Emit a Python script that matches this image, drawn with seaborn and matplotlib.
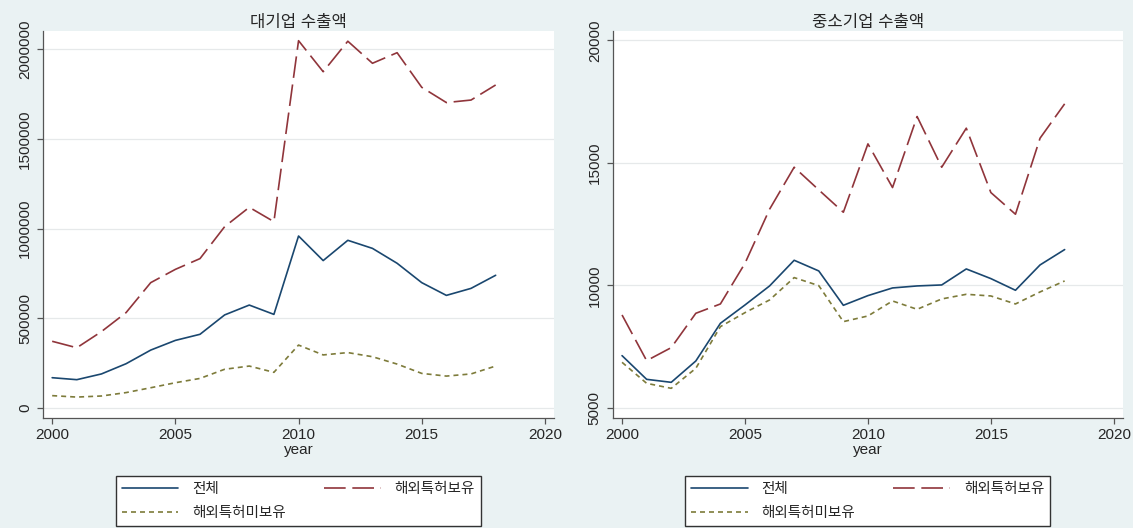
import pandas as pd
import matplotlib.pyplot as plt
from matplotlib.lines import Line2D
import seaborn as sns

years = list(range(2000, 2019))
series_names = ['전체', '해외특허보유', '해외특허미보유']

# 대기업 수출액
large_total = [169000, 158000, 190000, 247000, 323000, 377000, 411000, 519000, 574000, 522000,
               959000, 822000, 935000, 890000, 807000, 699000, 628000, 667000, 740000]
large_patent = [372000, 336000, 426000, 532000, 699000, 773000, 833000, 1011000, 1119000, 1039000,
                2048000, 1875000, 2045000, 1922000, 1981000, 1788000, 1703000, 1717000, 1801000]
large_nopatent = [69000, 61000, 67000, 86000, 113000, 141000, 165000, 216000, 234000, 199000,
                  351000, 296000, 309000, 286000, 245000, 193000, 178000, 190000, 234000]

# 중소기업 수출액
small_total = [7136, 6170, 6048, 6918, 8456, 9204, 9980, 11027, 10592, 9190,
               9585, 9898, 9980, 10020, 10673, 10279, 9803, 10837, 11463]
small_patent = [8796, 6932, 7463, 8864, 9245, 10905, 13109, 14823, 13898, 12986,
                15775, 13993, 16891, 14823, 16415, 13789, 12905, 16007, 17408]
small_nopatent = [6864, 6007, 5803, 6619, 8320, 8891, 9408, 10320, 9993, 8524,
                  8755, 9367, 9027, 9449, 9639, 9571, 9245, 9735, 10184]

titles = ['대기업 수출액', '중소기업 수출액']
x_ticks = [2000, 2005, 2010, 2015, 2020]
y_ticks_large = [0, 500000, 1000000, 1500000, 2000000]
y_ticks_small = [5000, 10000, 15000, 20000]

palette = {'전체': '#1a476f', '해외특허보유': '#90353b', '해외특허미보유': '#7d7b3a'}
dash_map = {'전체': '', '해외특허보유': (13, 4), '해외특허미보유': (3, 2.4)}

bg = '#eaf2f3'
sns.set_style('white')
plt.rcParams['font.family'] = ['Liberation Sans', 'Noto Sans CJK KR', 'DejaVu Sans']
plt.rcParams['axes.unicode_minus'] = False


def make_df(total, patent, nopatent):
    df = pd.DataFrame({'year': years, '전체': total, '해외특허보유': patent, '해외특허미보유': nopatent})
    return df.melt(id_vars='year', var_name='series', value_name='value')


fig = plt.figure(figsize=(11.33, 5.28), dpi=100, facecolor=bg)
ax1 = fig.add_axes([0.0380, 0.2083, 0.4510, 0.7330])
ax2 = fig.add_axes([0.5410, 0.2083, 0.4501, 0.7330])

panels = [
    (ax1, make_df(large_total, large_patent, large_nopatent), y_ticks_large, (-55750, 2102000), 0.1021),
    (ax2, make_df(small_total, small_patent, small_nopatent), y_ticks_small, (4592, 20380), 0.6046),
]

for (ax, df, yt, ylim, leg_x), title in zip(panels, titles):
    sns.lineplot(data=df, x='year', y='value', hue='series', style='series',
                 hue_order=series_names, style_order=series_names,
                 palette=palette, dashes=dash_map, linewidth=1.2, ax=ax, legend=False)
    ax.set_facecolor('white')
    ax.set_xlim(1999.63, 2020.37)
    ax.set_ylim(*ylim)
    ax.set_xticks(x_ticks)
    ax.set_yticks(yt)
    ax.set_yticklabels([str(v) for v in yt], rotation=90, va='center')
    ax.yaxis.grid(True, color='#e6e9ea', linewidth=0.9)
    ax.xaxis.grid(False)
    ax.set_axisbelow(True)
    for s in ['top', 'right']:
        ax.spines[s].set_visible(False)
    for s in ['left', 'bottom']:
        ax.spines[s].set_color('#555555')
        ax.spines[s].set_linewidth(0.9)
    ax.tick_params(axis='both', which='major', direction='out', length=4, width=0.9,
                   color='#555555', labelsize=11, left=True, bottom=True)
    ax.tick_params(axis='x', pad=3)
    ax.tick_params(axis='y', pad=4)
    ax.set_xlabel('year', fontsize=11, labelpad=1)
    ax.set_ylabel('')
    ax.set_title(title, fontsize=12, pad=3)

    handles = [Line2D([], [], color=palette[n], linewidth=1.2,
                      linestyle=(0, dash_map[n]) if dash_map[n] else '-') for n in
               ['전체', '해외특허미보유', '해외특허보유']]
    fig.legend(handles, ['전체', '해외특허미보유', '해외특허보유'], ncol=2,
               loc='lower left', bbox_to_anchor=(leg_x, 0.0038, 0.3222, 0.1104),
               mode='expand', borderaxespad=0, fontsize=10.5, handlelength=3.9,
               handletextpad=0.95, labelspacing=0.7, columnspacing=2,
               frameon=True, fancybox=False, framealpha=1, edgecolor='#333333',
               facecolor='white')

fig.savefig('out.png', dpi=100, facecolor=bg)
